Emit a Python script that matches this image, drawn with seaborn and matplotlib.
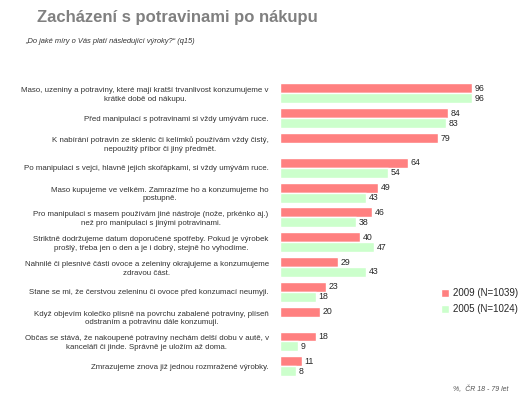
import pandas as pd
import numpy as np
import matplotlib.pyplot as plt
import seaborn as sns

statements = [
    'Maso, uzeniny a potraviny, které mají kratší trvanlivost konzumujeme v\nkrátké době od nákupu.',
    'Před manipulací s potravinami si vždy umývám ruce.',
    'K nabírání potravin ze sklenic či kelímků používám vždy čistý,\nnepoužitý příbor či jiný předmět.',
    'Po manipulaci s vejci, hlavně jejich skořápkami, si vždy umývám ruce.',
    'Maso kupujeme ve velkém. Zamrazíme ho a konzumujeme ho\npostupně.',
    'Pro manipulaci s masem používám jiné nástroje (nože, prkénko aj.)\nnež pro manipulaci s jinými potravinami.',
    'Striktně dodržujeme datum doporučené spotřeby. Pokud je výrobek\nprošlý, třeba jen o den a je i dobrý, stejně ho vyhodíme.',
    'Nahnilé či plesnivé části ovoce a zeleniny okrajujeme a konzumujeme\nzdravou část.',
    'Stane se mi, že čerstvou zeleninu či ovoce před konzumací neumyji.',
    'Když objevím kolečko plísně na povrchu zabalené potraviny, plíseň\nodstraním a potravinu dále konzumuji.',
    'Občas se stává, že nakoupené potraviny nechám delší dobu v autě, v\nkanceláři či jinde. Správně je uložím až doma.',
    'Zmrazujeme znova již jednou rozmražené výrobky.',
]
val_2009 = [96, 84, 79, 64, 49, 46, 40, 29, 23, 20, 18, 11]
val_2005 = [96, 83, np.nan, 54, 43, 38, 47, 43, 18, np.nan, 9, 8]
series = ['2009 (N=1039)', '2005 (N=1024)']

df = pd.DataFrame({'statement': statements * 2,
                   'value': val_2009 + val_2005,
                   'wave': [series[0]] * len(statements) + [series[1]] * len(statements)})

sns.set_style('white')
plt.rcParams['font.family'] = ['Liberation Sans', 'DejaVu Sans']

fig = plt.figure(figsize=(5.24, 3.99), dpi=100)
ax = fig.add_axes([0.534, 0.051, 0.382, 0.746])

sns.barplot(data=df, y='statement', x='value', hue='wave', hue_order=series,
            palette=['#FF8080', '#CCFFCC'], orient='h', width=0.8,
            saturation=1, ax=ax, legend=True)

for cont in ax.containers:
    ax.bar_label(cont, fmt='%d', padding=2, fontsize=6.3)

ax.set_xlim(0, 100)
ax.set_ylim(11.5, -0.5)
ax.set(xlabel='', ylabel='')
ax.set_xticks([])
ax.tick_params(axis='y', length=0, pad=8, labelsize=5.7, colors='#333333')
for lab in ax.get_yticklabels():
    lab.set_multialignment('center')
    lab.set_linespacing(1.3)
sns.despine(ax=ax, left=True, bottom=True)

handles, labels = ax.get_legend_handles_labels()
ax.legend(handles, labels, loc='center left', bbox_to_anchor=(0.825, 0.245),
          bbox_transform=fig.transFigure, frameon=False, fontsize=7,
          handlelength=0.8, handleheight=0.8, handletextpad=0.4, labelspacing=0.6)

fig.text(0.07, 0.975, 'Zacházení s potravinami po nákupu', fontsize=12,
         fontweight='bold', color='#808080', va='top')
fig.text(0.048, 0.897, '„Do jaké míry o Vás platí následující výroky?“ (q15)',
         fontsize=5.4, style='italic', color='#333333', va='center')
fig.text(0.97, 0.015, '%,  ČR 18 - 79 let', fontsize=5, style='italic',
         color='#555555', ha='right', va='bottom')

fig.savefig('out.png', dpi=100, facecolor='white')
